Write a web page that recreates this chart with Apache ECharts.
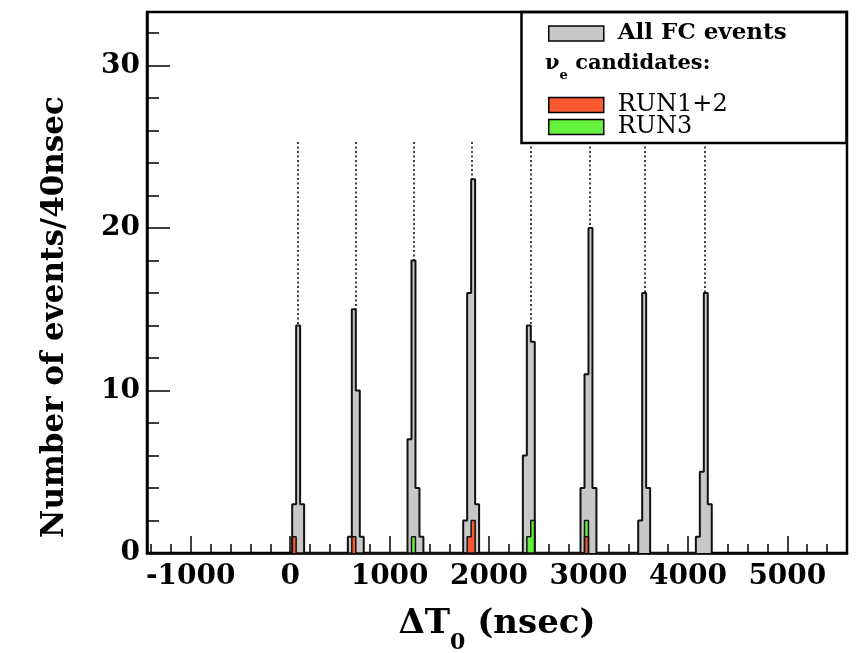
<!DOCTYPE html>
<html><head><meta charset="utf-8">
<script src="https://cdn.jsdelivr.net/npm/echarts@6/dist/echarts.min.js"></script>
<style>html,body{margin:0;padding:0;background:#fff}#c{width:856px;height:653px}</style>
</head><body><div id="c"></div>
<script>
// ---- data ----
const binWidth = 40; // ns per bin
const binLow = [20, 60, 100,
  580, 620, 660, 700,
  1180, 1220, 1260, 1300,
  1740, 1780, 1820, 1860,
  2340, 2380, 2420,
  2920, 2960, 3000, 3040,
  3500, 3540, 3580,
  4080, 4120, 4160, 4200];
const allFC = [3, 14, 3,
  1, 15, 10, 1,
  7, 18, 4, 1,
  2, 16, 23, 3,
  6, 14, 13,
  4, 11, 20, 4,
  2, 16, 4,
  1, 5, 16, 3];
const run12 = [1, 0, 0,
  0, 1, 0, 0,
  0, 0, 0, 0,
  0, 1, 2, 0,
  0, 0, 0,
  0, 1, 0, 0,
  0, 0, 0,
  0, 0, 0, 0];
const run3 = [0, 0, 0,
  0, 0, 0, 0,
  0, 1, 0, 0,
  0, 0, 0, 0,
  0, 1, 2,
  0, 1, 0, 0,
  0, 0, 0,
  0, 0, 0, 0];
const bunchCenters = [75, 658, 1245, 1830, 2415, 3010, 3569, 4170];
const dottedTop = 25.3;
const xMajorTicks = [-1000, 0, 1000, 2000, 3000, 4000, 5000];
const xMinorTicks = [-1400, -1200, -800, -600, -400, -200, 200, 400, 600, 800, 1200, 1400, 1600, 1800,
  2200, 2400, 2600, 2800, 3200, 3400, 3600, 3800, 4200, 4400, 4600, 4800, 5200, 5400];
const yMajorTicks = [0, 10, 20, 30];
const yMinorTicks = [2, 4, 6, 8, 12, 14, 16, 18, 22, 24, 26, 28, 32];

// ---- styles ----
const GRAY = '#c8c8c8', RED = '#fa5a32', GREEN = '#64f03c';
const FONT = 'DejaVu Serif';

function outline(vals) {
  const pts = [];
  let prevHi = null;
  for (let i = 0; i < binLow.length; i++) {
    const v = vals[i];
    if (!v) continue;
    const lo = binLow[i], hi = lo + binWidth;
    if (prevHi !== lo) {
      if (prevHi !== null) pts.push([prevHi, 0]);
      pts.push([lo, 0]);
    }
    pts.push([lo, v], [hi, v]);
    prevHi = hi;
  }
  if (prevHi !== null) pts.push([prevHi, 0]);
  return pts;
}
const greenShown = run3.map((v, i) => v ? v + run12[i] : 0);
const peakTop = bunchCenters.map(c => {
  let m = 0;
  binLow.forEach((lo, i) => { if (Math.abs(lo + binWidth / 2 - c) <= 80) m = Math.max(m, allFC[i]); });
  return m;
});

const chart = echarts.init(document.getElementById('c'), null, {renderer: 'canvas'});
const tickLabel = {fontFamily: FONT, fontWeight: 'bold', fontSize: 28, color: '#000', formatter: v => String(v)};
const legendText = (bold, size) => ({fontFamily: FONT, fontWeight: bold ? 'bold' : 'normal', fontSize: size, color: '#000', padding: [0, 0, 0, 9]});

chart.setOption({
  animation: false,
  backgroundColor: '#fff',
  grid: {left: 147, top: 12, width: 700, height: 541, outerBoundsMode: 'none', containLabel: false,
    show: true, borderColor: '#000', borderWidth: 2.5, backgroundColor: 'transparent'},
  xAxis: [
    {type: 'value', min: -1440, max: 5600, position: 'bottom',
      axisLine: {show: true, onZero: false, lineStyle: {color: '#000', width: 2.5}}, splitLine: {show: false},
      axisTick: {show: true, inside: true, length: 17, customValues: xMajorTicks, lineStyle: {color: '#000', width: 1.5}},
      axisLabel: Object.assign({customValues: xMajorTicks, margin: 10}, tickLabel),
      name: '{a|ΔT}{s|0}{a| (nsec)}', nameLocation: 'middle', nameGap: 54,
      nameTextStyle: {rich: {
        a: {fontFamily: FONT, fontWeight: 'bold', fontSize: 34, color: '#000', lineHeight: 40, verticalAlign: 'top'},
        s: {fontFamily: FONT, fontWeight: 'bold', fontSize: 22, color: '#000', lineHeight: 72, verticalAlign: 'middle'}
      }}
    },
    {type: 'value', min: -1440, max: 5600, position: 'bottom',
      axisLine: {show: false, onZero: false}, splitLine: {show: false}, axisLabel: {show: false},
      axisTick: {show: true, inside: true, length: 9, customValues: xMinorTicks, lineStyle: {color: '#000', width: 1.5}}}
  ],
  yAxis: [
    {type: 'value', min: 0, max: 33.3, position: 'left',
      axisLine: {show: true, onZero: false, lineStyle: {color: '#000', width: 2.5}}, splitLine: {show: false},
      axisTick: {show: true, inside: true, length: 23, customValues: yMajorTicks, lineStyle: {color: '#000', width: 1.5}},
      axisLabel: Object.assign({customValues: yMajorTicks, margin: 7}, tickLabel)},
    {type: 'value', min: 0, max: 33.3, position: 'left',
      axisLine: {show: false, onZero: false}, splitLine: {show: false}, axisLabel: {show: false},
      axisTick: {show: true, inside: true, length: 12, customValues: yMinorTicks, lineStyle: {color: '#000', width: 1.5}}}
  ],
  legend: [
    {left: 548, top: 22, padding: 0, itemWidth: 55, itemHeight: 15, selectedMode: false,
      data: [{name: 'All FC events', icon: 'rect', itemStyle: {color: GRAY, borderColor: '#000', borderWidth: 1.5}}],
      textStyle: legendText(true, 23)},
    {left: 548, top: 93, padding: 0, itemWidth: 55, itemHeight: 15, selectedMode: false,
      data: [{name: 'RUN1+2', icon: 'rect', itemStyle: {color: RED, borderColor: '#000', borderWidth: 1.5}}],
      textStyle: legendText(false, 24)},
    {left: 548, top: 115, padding: 0, itemWidth: 55, itemHeight: 15, selectedMode: false,
      data: [{name: 'RUN3', icon: 'rect', itemStyle: {color: GREEN, borderColor: '#000', borderWidth: 1.5}}],
      textStyle: legendText(false, 24)}
  ],
  graphic: [
    {type: 'rect', z: -1, shape: {x: 521.5, y: 12, width: 325, height: 131},
      style: {fill: '#fff', stroke: '#000', lineWidth: 2.5}},
    {type: 'text', x: 545, y: 76, z: 5,
      style: {text: '{a|ν}{s|e}{a| candidates:}', verticalAlign: 'middle', align: 'left',
        rich: {
          a: {fontFamily: FONT, fontWeight: 'bold', fontSize: 21, fill: '#000', lineHeight: 26, verticalAlign: 'top'},
          s: {fontFamily: FONT, fontWeight: 'bold', fontSize: 13, fill: '#000', lineHeight: 46, verticalAlign: 'middle'}
        }}},
    {type: 'text', x: 55, y: 317, rotation: Math.PI / 2, z: 5,
      style: {text: 'Number of events/40nsec', font: 'bold 31px "DejaVu Serif"', fill: '#000', align: 'center', verticalAlign: 'middle'}}
  ],
  series: [
    {type: 'line', name: 'All FC events', xAxisIndex: 0, yAxisIndex: 0, data: outline(allFC),
      symbol: 'none', silent: true, lineStyle: {color: '#111', width: 2}, itemStyle: {color: GRAY},
      areaStyle: {color: GRAY, opacity: 1}},
    {type: 'line', name: 'RUN3', xAxisIndex: 0, yAxisIndex: 0, data: outline(greenShown),
      symbol: 'none', silent: true, lineStyle: {color: '#111', width: 1.5}, itemStyle: {color: GREEN},
      areaStyle: {color: GREEN, opacity: 1}},
    {type: 'line', name: 'RUN1+2', xAxisIndex: 0, yAxisIndex: 0, data: outline(run12),
      symbol: 'none', silent: true, lineStyle: {color: '#111', width: 1.5}, itemStyle: {color: RED},
      areaStyle: {color: RED, opacity: 1},
      markLine: {silent: true, symbol: ['none', 'none'], label: {show: false},
        lineStyle: {color: '#000', width: 1.5, type: [2, 2.5]},
        data: bunchCenters.map((c, k) => [{coord: [c, dottedTop]}, {coord: [c, peakTop[k]]}])}}
  ]
});
</script></body></html>
